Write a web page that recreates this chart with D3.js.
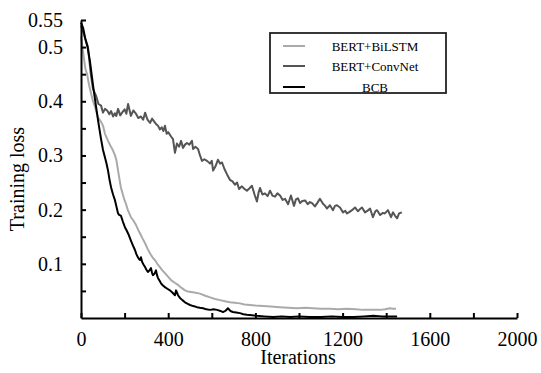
<!DOCTYPE html>
<html>
<head>
<meta charset="utf-8">
<script src="https://cdn.jsdelivr.net/npm/d3@7"></script>
<style>
  html, body { margin: 0; padding: 0; background: #fff; }
  svg { display: block; }
  text { font-family: "Liberation Serif", "Times New Roman", serif; fill: #000; }
</style>
</head>
<body>
<svg id="chart" width="541" height="373"></svg>
<script>
// ---------- data ----------
const seriesNames = ["BERT+BiLSTM", "BERT+ConvNet", "BCB"];

const convIters = [0,16,32,45,55,69,80,92,101,110,120,130,138,147,155,162,170,180,190,200,208,216,229,240,252,263,275,285,294,305,317,326,335,344,353,362,370,378,385,393,400,413,422,431,440,450,459,468,477,486,497,509,514,525,537,546,555,566,578,592,600,606,617,628,638,647,658,670,683,695,706,716,725,738,750,761,772,784,796,807,815,821,832,844,856,867,878,890,901,913,925,936,950,963,977,986,995,1005,1015,1028,1040,1050,1060,1073,1085,1096,1110,1120,1128,1142,1156,1165,1174,1188,1202,1212,1220,1232,1243,1257,1270,1280,1289,1303,1315,1326,1339,1350,1358,1372,1385,1394,1408,1422,1431,1440,1450,1459,1472];
const convLoss = [0.54,0.52,0.50,0.45,0.423,0.41,0.395,0.392,0.379,0.386,0.383,0.376,0.382,0.372,0.378,0.373,0.386,0.374,0.38,0.385,0.377,0.395,0.373,0.383,0.377,0.369,0.372,0.366,0.379,0.366,0.36,0.368,0.363,0.358,0.355,0.348,0.352,0.345,0.355,0.34,0.343,0.335,0.33,0.305,0.322,0.316,0.327,0.314,0.32,0.323,0.32,0.327,0.312,0.316,0.312,0.30,0.29,0.293,0.29,0.285,0.29,0.272,0.28,0.292,0.285,0.287,0.275,0.265,0.255,0.252,0.246,0.25,0.238,0.243,0.238,0.235,0.239,0.244,0.228,0.215,0.232,0.24,0.228,0.23,0.225,0.235,0.226,0.224,0.23,0.226,0.218,0.22,0.21,0.226,0.207,0.219,0.221,0.212,0.216,0.217,0.21,0.214,0.212,0.206,0.213,0.22,0.211,0.207,0.202,0.208,0.199,0.207,0.208,0.204,0.195,0.198,0.193,0.196,0.199,0.204,0.197,0.201,0.204,0.195,0.198,0.202,0.186,0.197,0.199,0.19,0.194,0.193,0.199,0.186,0.195,0.189,0.184,0.193,0.195];

const lstmIters = [0,10,20,28,37,46,55,64,78,92,101,110,124,135,147,156,163,170,177,183,192,200,206,216,229,240,252,262,271,282,294,305,317,328,339,350,362,373,385,400,413,430,445,460,477,490,505,520,546,570,592,615,638,660,683,705,729,750,775,800,835,870,913,950,991,1030,1064,1100,1142,1180,1220,1260,1294,1330,1372,1395,1417,1430,1445];
const lstmLoss = [0.52,0.49,0.46,0.45,0.43,0.415,0.40,0.39,0.37,0.362,0.355,0.34,0.327,0.318,0.309,0.30,0.29,0.272,0.255,0.241,0.228,0.217,0.211,0.198,0.186,0.18,0.172,0.163,0.156,0.147,0.138,0.128,0.119,0.112,0.107,0.10,0.094,0.088,0.083,0.076,0.07,0.065,0.061,0.056,0.051,0.049,0.048,0.047,0.045,0.041,0.038,0.035,0.033,0.031,0.029,0.028,0.027,0.025,0.024,0.023,0.022,0.021,0.02,0.019,0.018,0.019,0.018,0.017,0.017,0.016,0.017,0.016,0.015,0.015,0.015,0.016,0.018,0.017,0.017];

const bcbIters = [0,10,20,30,41,55,69,80,92,101,110,117,124,131,138,147,156,163,170,176,183,192,202,209,216,222,229,238,248,254,261,266,271,275,281,288,294,300,307,314,321,326,330,337,344,348,353,360,367,376,385,396,408,419,431,436,445,454,465,477,490,500,515,532,545,560,575,592,608,624,640,651,662,674,685,697,712,729,745,761,785,807,840,881,920,960,1000,1050,1100,1150,1200,1250,1300,1340,1380,1420,1450];
const bcbLoss = [0.545,0.535,0.515,0.50,0.474,0.43,0.39,0.36,0.33,0.31,0.296,0.285,0.272,0.255,0.241,0.228,0.217,0.205,0.193,0.19,0.189,0.178,0.167,0.162,0.156,0.15,0.143,0.134,0.125,0.118,0.112,0.109,0.107,0.112,0.103,0.098,0.094,0.089,0.085,0.088,0.092,0.083,0.079,0.082,0.088,0.08,0.074,0.069,0.064,0.06,0.057,0.054,0.051,0.047,0.042,0.051,0.042,0.037,0.033,0.029,0.026,0.024,0.022,0.02,0.019,0.018,0.016,0.015,0.016,0.015,0.013,0.011,0.013,0.018,0.013,0.011,0.01,0.009,0.007,0.006,0.005,0.004,0.003,0.002,0.003,0.002,0.003,0.002,0.002,0.003,0.002,0.002,0.003,0.004,0.003,0.003,0.003];

const xTickValues = [0,200,400,600,800,1000,1200,1400,1600,1800,2000];
const xTickLabels = ["0","","400","","800","","1200","","1600","","2000"];
const yTickValues = [0.05,0.1,0.15,0.2,0.25,0.3,0.35,0.4,0.45,0.5,0.55];
const yTickLabels = ["","0.1","","0.2","","0.3","","0.4","","0.5","0.55"];

const seriesColors = ["#aaaaaa", "#555555", "#000000"];

// ---------- drawing ----------
const svg = d3.select("#chart");
const x = d3.scaleLinear().domain([0, 2000]).range([81, 517]);
const y = d3.scaleLinear().domain([0, 0.55]).range([318, 20]);

const series = [
  { name: seriesNames[0], color: seriesColors[0], pts: lstmIters.map((d, i) => [d, lstmLoss[i]]) },
  { name: seriesNames[1], color: seriesColors[1], pts: convIters.map((d, i) => [d, convLoss[i]]) },
  { name: seriesNames[2], color: seriesColors[2], pts: bcbIters.map((d, i) => [d, bcbLoss[i]]) }
];

const line = d3.line().x(d => x(d[0])).y(d => y(d[1]));

svg.append("g").selectAll("path")
  .data(series)
  .join("path")
  .attr("d", d => line(d.pts))
  .attr("fill", "none")
  .attr("stroke", d => d.color)
  .attr("stroke-width", 2)
  .attr("stroke-linejoin", "round");

// x axis
const xAxis = d3.axisBottom(x)
  .tickValues(xTickValues)
  .tickFormat((d, i) => xTickLabels[i])
  .tickSizeInner(-5)
  .tickSizeOuter(0)
  .tickPadding(14);
const gx = svg.append("g").attr("transform", "translate(0,318)").call(xAxis);
gx.select(".domain").attr("stroke", "#000").attr("stroke-width", 2);
gx.selectAll(".tick line").attr("stroke", "#000").attr("stroke-width", 2);
gx.selectAll(".tick text").attr("font-size", 20).attr("font-family", "Liberation Serif, Times New Roman, serif");

// y axis
const yAxis = d3.axisLeft(y)
  .tickValues(yTickValues)
  .tickFormat((d, i) => yTickLabels[i])
  .tickSizeInner(-5)
  .tickSizeOuter(0)
  .tickPadding(18);
const gy = svg.append("g").attr("transform", "translate(81,0)").call(yAxis);
gy.select(".domain").attr("stroke", "#000").attr("stroke-width", 2);
gy.selectAll(".tick line").attr("stroke", "#000").attr("stroke-width", 2);
gy.selectAll(".tick text").attr("font-size", 20).attr("font-family", "Liberation Serif, Times New Roman, serif");

// axis titles
svg.append("text")
  .attr("x", 298).attr("y", 364)
  .attr("text-anchor", "middle")
  .attr("font-size", 20)
  .text("Iterations");
svg.append("text")
  .attr("transform", "translate(24,179) rotate(-90)")
  .attr("text-anchor", "middle")
  .attr("font-size", 20)
  .text("Training loss");

// legend
const lg = svg.append("g");
lg.append("rect")
  .attr("x", 270).attr("y", 33)
  .attr("width", 176).attr("height", 60)
  .attr("fill", "#fff")
  .attr("stroke", "#222").attr("stroke-width", 1.8);
const rowY = [46, 66, 87];
series.forEach((s, i) => {
  lg.append("line")
    .attr("x1", 283).attr("x2", 305)
    .attr("y1", rowY[i]).attr("y2", rowY[i])
    .attr("stroke", s.color).attr("stroke-width", 2);
  lg.append("text")
    .attr("x", 375).attr("y", rowY[i] + 4.5)
    .attr("text-anchor", "middle")
    .attr("font-size", 13)
    .text(s.name);
});
</script>
</body>
</html>
